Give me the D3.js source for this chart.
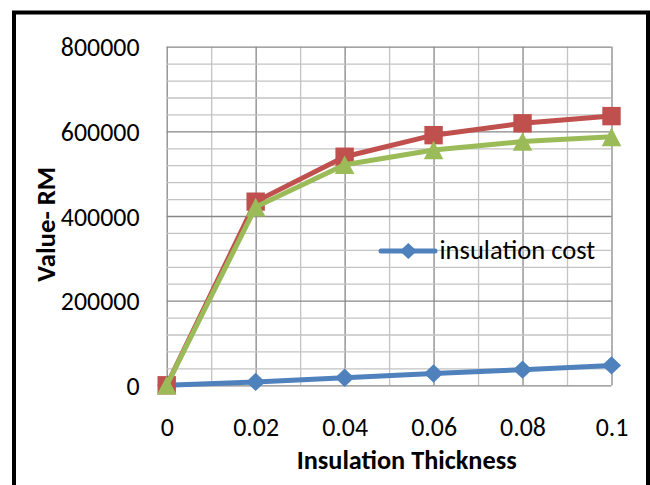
<!DOCTYPE html>
<html>
<head>
<meta charset="utf-8">
<script src="https://cdn.jsdelivr.net/npm/d3@7"></script>
<style>
  html, body { margin: 0; padding: 0; background: #fff; }
  svg { display: block; }
  text { font-family: Carlito, Calibri, Lato, sans-serif; fill: #000; }
</style>
</head>
<body>
<svg id="chart" width="650" height="485"></svg>
<script>
// ---- data ----
const thickness = [0, 0.02, 0.04, 0.06, 0.08, 0.1];
const xTickLabels = ["0", "0.02", "0.04", "0.06", "0.08", "0.1"];
const insulationCost = [0, 8000, 18000, 28000, 37000, 47000];
const seriesRed = [0, 434000, 540000, 591000, 619000, 636000];
const seriesGreen = [0, 421000, 521000, 556000, 576000, 587000];
const yTicks = [0, 200000, 400000, 600000, 800000];
const legendLabel = "insulation cost";
const xTitle = "Insulation Thickness";
const yTitle = "Value- RM";

// ---- layout ----
const svg = d3.select("#chart");
const x0 = 166.7, x1 = 611.5, yTop = 46.7, yBot = 385.3;
const x = d3.scaleLinear().domain([0, 0.1]).range([x0, x1]);
const y = d3.scaleLinear().domain([0, 800000]).range([yBot, yTop]);

const colBlue = "#4F81BD", colRed = "#C0504D", colGreen = "#9BBB59";
const majorCol = "#878787", minorCol = "#C3C3C3";
const FONT = "Carlito, Calibri, Lato, sans-serif";

function fitWidth(sel, target) {
  sel.each(function () {
    const len = this.getComputedTextLength();
    const fs = parseFloat(this.getAttribute("font-size"));
    if (len > 0) this.setAttribute("font-size", (fs * target / len).toFixed(2));
  });
}

// outer border
svg.append("rect").attr("x", 14).attr("y", 12.5).attr("width", 634).attr("height", 500)
  .attr("fill", "none").attr("stroke", "#000").attr("stroke-width", 4);

// ---- gridlines ----
const xGridVals = d3.range(0, 11).map(i => i / 100);
const yGridVals = d3.range(0, 21).map(i => i * 40000);

const gx = svg.append("g").attr("transform", `translate(0,${yBot})`)
  .call(d3.axisBottom(x).tickValues(xGridVals).tickSize(-(yBot - yTop)).tickFormat(""));
gx.select(".domain").remove();
gx.selectAll(".tick line")
  .attr("stroke", (d, i) => i % 2 === 0 ? majorCol : minorCol)
  .attr("stroke-width", 1.3);

const gy = svg.append("g").attr("transform", `translate(${x0},0)`)
  .call(d3.axisLeft(y).tickValues(yGridVals).tickSize(-(x1 - x0)).tickFormat(""));
gy.select(".domain").remove();
gy.selectAll(".tick line")
  .attr("stroke", (d, i) => i % 5 === 0 ? majorCol : minorCol)
  .attr("stroke-width", 1.3);
gx.selectAll(".tick").filter((d, i) => i % 2 === 0).raise();
gy.selectAll(".tick").filter((d, i) => i % 5 === 0).raise();

// ---- tick labels ----
const ay = svg.append("g").attr("transform", `translate(${x0},0)`)
  .call(d3.axisLeft(y).tickValues(yTicks).tickSize(0).tickPadding(27.2).tickFormat(d3.format("d")));
ay.select(".domain").remove();
ay.selectAll("text").attr("font-size", 22.6).attr("fill", "#000")
  .attr("font-family", FONT).attr("dy", "0.35em");

// size the tick font so "800000" matches the reference width
let tickFs = 22.6;
ay.selectAll("text").filter(d => d === 800000).each(function () {
  const len = this.getComputedTextLength();
  if (len > 0) tickFs = 22.6 * 78.7 / len;
});
ay.selectAll("text").attr("font-size", tickFs.toFixed(2));

const ax = svg.append("g").attr("transform", `translate(0,${yBot})`)
  .call(d3.axisBottom(x).tickValues(thickness).tickSize(0).tickFormat((d, i) => xTickLabels[i]));
ax.select(".domain").remove();
ax.selectAll("text").attr("font-size", tickFs.toFixed(2)).attr("fill", "#000")
  .attr("font-family", FONT)
  .attr("y", 436.3 - yBot).attr("dy", null);

// ---- series ----
const line = d3.line().x((d, i) => x(thickness[i])).y(d => y(d));

function drawSeries(vals, color, marker) {
  const g = svg.append("g");
  g.append("path").datum(vals).attr("d", line)
    .attr("fill", "none").attr("stroke", color).attr("stroke-width", 5)
    .attr("stroke-linejoin", "round").attr("stroke-linecap", "round");
  g.selectAll("path.m").data(vals).enter().append("path").attr("class", "m")
    .attr("d", (d, i) => marker(x(thickness[i]), y(d)))
    .attr("fill", color);
}
const square = (cx, cy) => { const h = 9.2; return `M${cx-h},${cy-h}h${2*h}v${2*h}h${-2*h}Z`; };
const triangle = (cx, cy) => { const w = 9.8, h = 9.3; return `M${cx},${cy-h}L${cx+w},${cy+h}L${cx-w},${cy+h}Z`; };
const diamond = (cx, cy, s) => { const w = s || 9.6, h = s ? s * 0.95 : 9.2; return `M${cx},${cy-h}L${cx+w},${cy}L${cx},${cy+h}L${cx-w},${cy}Z`; };

drawSeries(insulationCost, colBlue, diamond);
drawSeries(seriesRed, colRed, square);
drawSeries(seriesGreen, colGreen, triangle);

// ---- legend ----
const lg = svg.append("g");
lg.append("line").attr("x1", 381).attr("x2", 435).attr("y1", 251).attr("y2", 251)
  .attr("stroke", colBlue).attr("stroke-width", 5).attr("stroke-linecap", "round");
lg.append("path").attr("d", diamond(408.3, 251, 8.5)).attr("fill", colBlue);
const lt = lg.append("text").attr("x", 439.5).attr("y", 259.3).attr("font-size", 22.6).text(legendLabel);
fitWidth(lt, 155.7);

// ---- axis titles ----
const xt = svg.append("text").attr("x", 406.7).attr("y", 469.3).attr("text-anchor", "middle")
  .attr("font-weight", "bold").attr("font-size", 22).text(xTitle);
fitWidth(xt, 220);

const yt = svg.append("text").attr("text-anchor", "middle")
  .attr("transform", "translate(55,224.2) rotate(-90)")
  .attr("font-weight", "bold").attr("font-size", 22).text(yTitle);
fitWidth(yt, 115);
</script>
</body>
</html>
